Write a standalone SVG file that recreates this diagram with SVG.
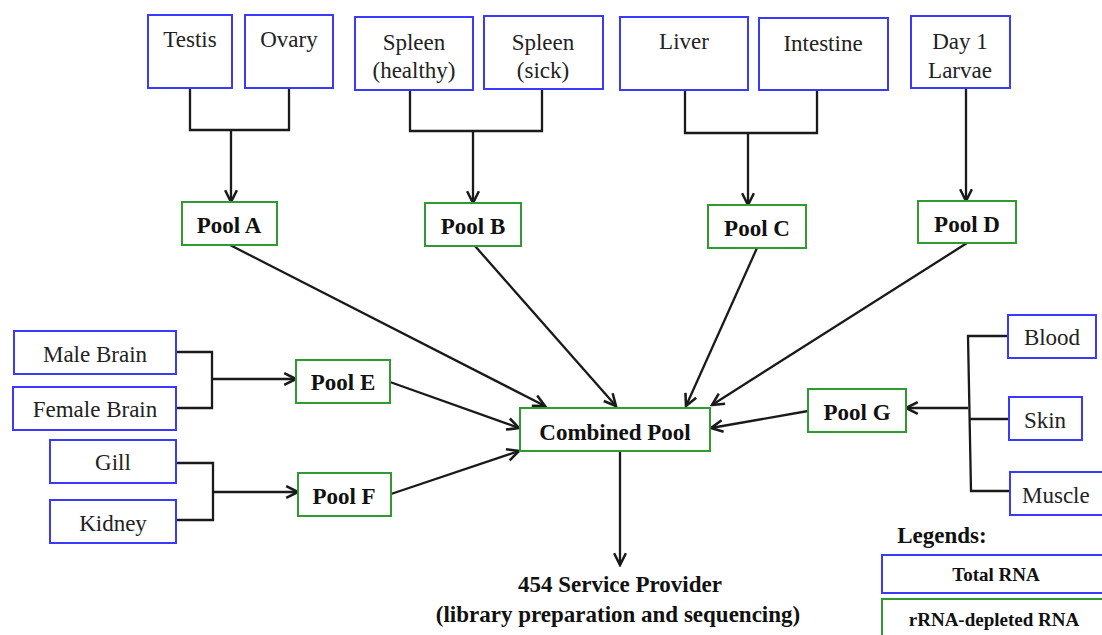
<svg xmlns="http://www.w3.org/2000/svg" width="1102" height="635" viewBox="0 0 1102 635">
<style>
.b{fill:#fff;stroke:#3a3aff;stroke-width:2}
.g{fill:#fff;stroke:#2f9a2f;stroke-width:2}
.t{font-family:"Liberation Serif","Times New Roman",serif;font-size:23px;fill:#222;text-anchor:middle}
.p{font-family:"Liberation Serif","Times New Roman",serif;font-size:23px;font-weight:bold;fill:#111;text-anchor:middle}
.l{font-family:"Liberation Serif","Times New Roman",serif;font-size:19px;font-weight:bold;fill:#111;text-anchor:middle}
.c path{fill:none;stroke:#1a1a1a;stroke-width:2.3}
.c .a{marker-end:url(#ah)}
</style>
<defs>
<marker id="ah" viewBox="0 0 14 14" refX="12.5" refY="7" markerWidth="15" markerHeight="15" markerUnits="userSpaceOnUse" orient="auto">
<path d="M1.5,1.5 L12.5,7 L1.5,12.5" fill="none" stroke="#1a1a1a" stroke-width="2.4"/>
</marker>
</defs>
<rect width="1102" height="635" fill="#fff"/>
<g class="c" id="connectors">
<path d="M190,88 V130 H289 V88"/>
<path class="a" d="M231,130 V202"/>
<path d="M410,90 V131 H542 V89"/>
<path class="a" d="M473,131 V203"/>
<path d="M685,90 V133 H817 V90"/>
<path class="a" d="M748,133 V205"/>
<path class="a" d="M966,88 V201"/>
<path d="M176,352 H212 V408 H176"/>
<path class="a" d="M212,379 H296"/>
<path d="M176,463 H213 V520 H176"/>
<path class="a" d="M213,492 H298"/>
<path d="M1009,336 H968 L971,491 H1011"/>
<path d="M969,419 H1009"/>
<path class="a" d="M968,408 H906"/>
<path class="a" d="M230,245 L545,406"/>
<path class="a" d="M475,246 L616,406"/>
<path class="a" d="M757,248 L686,406"/>
<path class="a" d="M967,243 L712,405"/>
<path class="a" d="M390,382 L519,428"/>
<path class="a" d="M391,494 L519,451"/>
<path class="a" d="M808,411 L711,428"/>
<path class="a" d="M620,451 V565"/>
</g>
<g id="testis"><rect class="b" x="148" y="15" width="84" height="73"/><text class="t" x="190" y="47">Testis</text></g>
<g id="ovary"><rect class="b" x="245" y="15" width="88" height="73"/><text class="t" x="289" y="47">Ovary</text></g>
<g id="spleen-healthy"><rect class="b" x="355" y="17" width="118" height="73"/><text class="t" x="414" y="50">Spleen</text><text class="t" x="414" y="78">(healthy)</text></g>
<g id="spleen-sick"><rect class="b" x="484" y="16" width="119" height="73"/><text class="t" x="543" y="50">Spleen</text><text class="t" x="543" y="78">(sick)</text></g>
<g id="liver"><rect class="b" x="620" y="17" width="128" height="73"/><text class="t" x="684" y="49">Liver</text></g>
<g id="intestine"><rect class="b" x="759" y="18" width="129" height="72"/><text class="t" x="823" y="51">Intestine</text></g>
<g id="larvae"><rect class="b" x="911" y="16" width="99" height="72"/><text class="t" x="960" y="49">Day 1</text><text class="t" x="960" y="78">Larvae</text></g>
<g id="poolA"><rect class="g" x="182" y="202" width="95" height="43"/><text class="p" x="229" y="233">Pool A</text></g>
<g id="poolB"><rect class="g" x="425" y="203" width="96" height="43"/><text class="p" x="473" y="234">Pool B</text></g>
<g id="poolC"><rect class="g" x="708" y="205" width="98" height="43"/><text class="p" x="757" y="236">Pool C</text></g>
<g id="poolD"><rect class="g" x="918" y="201" width="98" height="42"/><text class="p" x="967" y="232">Pool D</text></g>
<g id="male-brain"><rect class="b" x="14" y="331" width="162" height="43"/><text class="t" x="95" y="362">Male Brain</text></g>
<g id="female-brain"><rect class="b" x="13" y="387" width="163" height="43"/><text class="t" x="95" y="417">Female Brain</text></g>
<g id="gill"><rect class="b" x="50" y="440" width="126" height="43"/><text class="t" x="113" y="470">Gill</text></g>
<g id="kidney"><rect class="b" x="50" y="500" width="126" height="43"/><text class="t" x="113" y="531">Kidney</text></g>
<g id="poolE"><rect class="g" x="296" y="360" width="94" height="43"/><text class="p" x="343" y="390">Pool E</text></g>
<g id="poolF"><rect class="g" x="298" y="473" width="93" height="43"/><text class="p" x="344" y="504">Pool F</text></g>
<g id="combined"><rect class="g" x="520" y="408" width="190" height="43"/><text class="p" x="615" y="440">Combined Pool</text></g>
<g id="poolG"><rect class="g" x="808" y="389" width="98" height="43"/><text class="p" x="857" y="420">Pool G</text></g>
<g id="blood"><rect class="b" x="1008" y="315" width="88" height="43"/><text class="t" x="1052" y="345">Blood</text></g>
<g id="skin"><rect class="b" x="1009" y="397" width="73" height="43"/><text class="t" x="1045" y="428">Skin</text></g>
<g id="muscle"><rect class="b" x="1010" y="472" width="100" height="43"/><text class="t" x="1022" y="503" style="text-anchor:start">Muscle</text></g>
<g id="provider"><text class="p" x="620" y="592">454 Service Provider</text><text class="p" x="618" y="622">(library preparation and sequencing)</text></g>
<g id="legend">
<text class="p" x="942" y="543">Legends:</text>
<rect class="b" x="882" y="555" width="228" height="38"/><text class="l" x="996" y="581">Total RNA</text>
<rect class="g" x="882" y="599" width="228" height="45"/><text class="l" x="994" y="626">rRNA-depleted RNA</text>
</g>
</svg>
